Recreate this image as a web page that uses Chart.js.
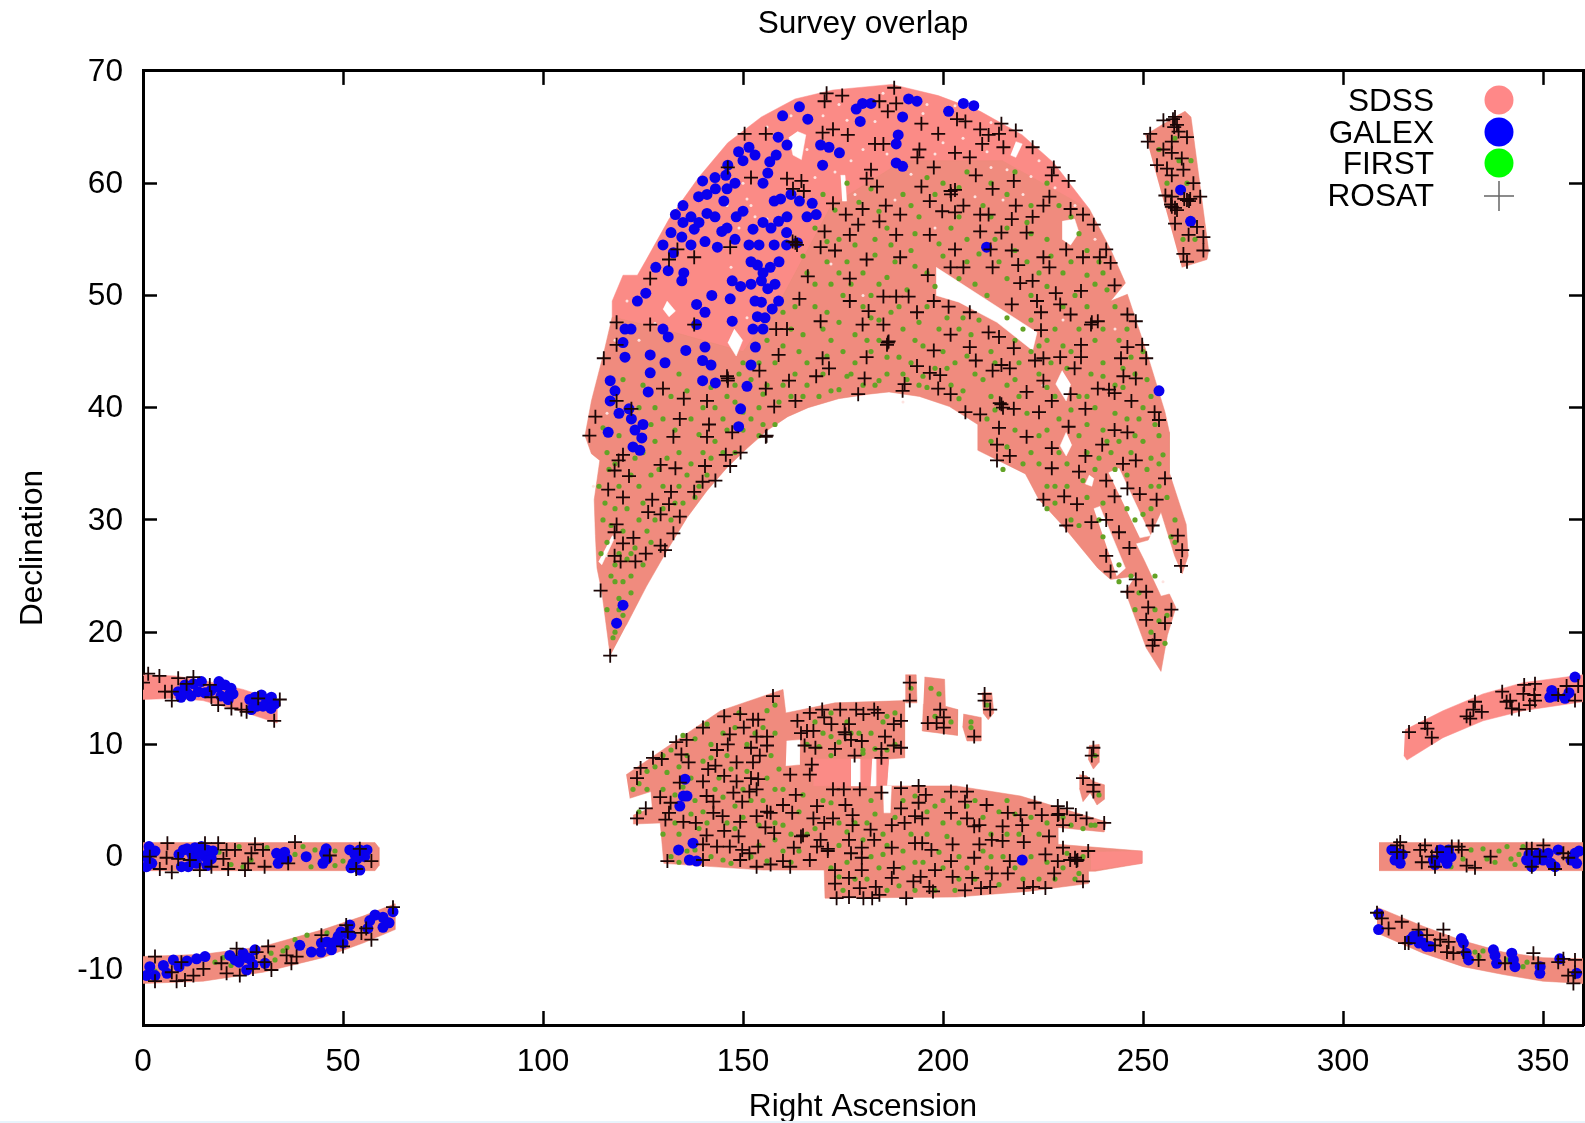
<!DOCTYPE html>
<html lang="en">
<head>
<meta charset="UTF-8" />
<title>Survey overlap</title>
<style>
  html, body { margin: 0; padding: 0; background: #fff; }
  #wrap { position: relative; width: 1585px; height: 1123px; }
  #strip { position: absolute; left: 0; right: 0; bottom: 0; height: 2px; background: #e8f4fc; }
</style>
</head>
<body>
<div id="wrap"><canvas id="chart" width="1585" height="1123"></canvas><div id="strip"></div></div>
<script src="https://cdn.jsdelivr.net/npm/chart.js"></script>
<script>
const xTicks = [0, 50, 100, 150, 200, 250, 300, 350];
const yTicks = [-10, 0, 10, 20, 30, 40, 50, 60, 70];
const legendNames = ['SDSS', 'GALEX', 'FIRST', 'ROSAT'];

// SDSS footprint outlines [RA, Dec]
const capLeftEdge = [[116.8,17.9],[114.7,23.6],[113.5,25.7],[113.1,28.6],[112.8,31.8],[114.2,35.3],[112.1,35.9],[110.5,37.5],[112.1,40.6],[115.2,44.9],[117.3,48.1]];
const capTopEdge = [[117.3,49.5],[120,51.8],[123.6,51.8],[125.7,53.1],[131.5,56.8],[138.9,60.5],[146.2,63.6],[154.6,65.9],[163,67.5],[172.5,68.3],[187.2,68.8],[198.8,67.8],[209.3,66.4],[219.8,64.3],[227.7,61.8]];
const capRightEdge = [[236.6,57.7],[241.9,54.1],[245.6,51.1],[241.9,49.5],[246.1,50.1],[251.3,44.5],[255.5,39.6],[256.6,37.8],[256.6,34.2],[260.8,29.6],[261.3,26.8],[259.8,25.2],[257.9,26.8],[254.5,30.7],[251.3,28.2],[248.2,27.9],[250.3,26.4],[254.5,23.2],[256.6,23.4],[258.2,22.2],[256.1,19.7],[254.5,16.5],[250.8,18.6],[245.6,23.6],[248.2,25],[241.9,24.7],[238.7,25.7],[229.9,29.5],[224,31.8],[220.6,34.1],[208.7,36.2],[208.7,38.5],[201.6,40.1],[194.1,41],[186.5,41.4],[181.4,41.2],[173.9,40.8],[166.3,40],[161.2,39.2],[156.2,38],[151.1,36.4],[146.1,34.7],[141,32.6],[136,30.2],[130.9,27.2],[125.9,24.1],[120.8,20.6]];
const capFirstLimit = [[130,47],[150,45],[160,50],[172,58],[190,62],[215,62]];
const sdssStrip = [[250.6,64.3],[258,65.9],[260.5,66.4],[262,65.9],[266.4,54],[266,53.2],[259.7,52.5]];
const sdssPatch = [[120.8,7.3],[131.9,10],[144.4,13],[160,14.9],[160.7,12.8],[173,13.7],[190.4,13.9],[190.4,8.8],[186.4,8.7],[185.9,6.3],[187.2,6.3],[203.3,6.3],[219.4,5.4],[240.8,3.1],[240.3,2.2],[228.7,2.6],[228.7,1.1],[249.7,0.5],[249.7,-0.6],[238.1,-1.3],[236.3,-1.3],[236.3,-2.4],[221.1,-3.1],[203.3,-3.6],[170.5,-3.7],[170.3,-1.2],[155.1,-1.2],[130.2,-0.6],[129.3,3],[122.6,2.9],[122.6,3.7],[127.3,4.4],[127,5.8],[121.7,5.2]];
const sdssBit1 = [[190.6,16.2],[193.3,16.2],[193.5,13.7],[190.6,13.7]];
const sdssBit2 = [[195.4,16],[200.4,15.8],[200.6,13.4],[203.7,13.1],[203.6,10.8],[194.8,11.2],[195.1,13.6]];
const sdssBit3 = [[205.1,12.7],[209.5,12.4],[209.5,10.3],[206,10.3],[204.9,11.6]];
const sdssBit4 = [[209.7,14.6],[212.2,14.6],[212.7,12.8],[211.3,12.2],[210,12.8]];
const sdssBit5 = [[236.5,9.9],[239,10],[239,8.4],[237.6,7.8],[236.3,8.7]];
const sdssBit6 = [[234.1,7.3],[235.9,7.2],[237.6,6.7],[240.3,6.4],[240.3,5.1],[238.5,4.6],[236.8,5.7],[235,4.9],[234.1,6.1]];
const sdssArcTL = [[0,16.2],[8,16.1],[15,15.7],[25,14.9],[33.5,13.9],[33.5,11.9],[25,12.9],[15,13.9],[8,14.1],[0,14]];
const sdssEqL = [[0,1.25],[58,1.25],[59,0.8],[59,-0.8],[58,-1.25],[0,-1.25]];
const sdssArcBL = [[0,-8.9],[15,-8.7],[30,-8],[45,-6.5],[55,-5.3],[63,-4.2],[63,-6.5],[55,-7.7],[45,-9],[30,-10.3],[15,-11.1],[0,-11.3]];
const sdssArcTR = [[315.5,11.3],[325,13],[335,14.5],[345,15.5],[360,16.2],[360,13.8],[345,13],[335,12.1],[325,10.6],[316,8.6],[315.2,9]];
const sdssEqR = [[309,1.25],[360,1.25],[360,-1.25],[309,-1.25]];
const sdssArcBR = [[308.5,-4.5],[320,-6.2],[330,-7.5],[340,-8.5],[350,-9],[360,-9.1],[360,-11.3],[350,-11.1],[340,-10.5],[330,-9.8],[320,-8.6],[308.5,-6.8]];
// parts of the patch with no FIRST sources
const plainA = [[167.6,8.7],[177,8.7],[177,6.3],[167.6,6.3]];
const plainB = [[179.2,8.7],[182.3,8.7],[181.9,6.3],[179.2,6.3]];
const plainC = [[183.2,8.7],[186.4,8.7],[185.9,6.3],[183.2,6.3]];
const plainD = [[237,0.4],[249.7,0.5],[249.7,-0.6],[237,-1.2]];

// unobserved slits and holes inside the footprint
const gapA = [[198.3,52.5],[223.5,46.7],[222.4,45.1],[213.5,47.6],[204,49.4],[198.3,50]];
const gapB = [[229.8,56.6],[232.9,56.8],[234,55.6],[231.9,54.5],[229.8,55]];
const gapC = [[229.8,43.3],[228.2,42.1],[230.8,40.6],[231.9,42.1]];
const gapD = [[230.8,37.8],[229.3,36.6],[230.8,35.7],[232.2,36.7]];
const gapE = [[236.6,34],[235.6,33.2],[237.2,33],[237.7,33.7]];
const gapF = [[163.6,64.6],[165.7,64.3],[164.6,62.1],[162.5,62.5],[161.5,64.1]];
const gapG = [[174.4,60.7],[175.5,60.7],[175.9,58.4],[174.8,58.4]];
const gapH = [[218.2,63.7],[219.8,63.5],[218.2,62.3],[216.9,62.5]];
const gapI = [[147.8,47],[149.9,46],[148.3,44.6],[146.2,45.8]];
const gapJ = [[131,49.5],[133.1,48.6],[131.5,48.1],[130,48.8]];
const gapK = [[117.3,28.6],[117.9,28.4],[114.7,26],[113.9,26.3]];
const gapL = [[241.4,34.2],[244,34.6],[251.9,28.6],[249.2,28.4]];
const gapM = [[237.7,31],[239.2,31.2],[245.6,25.7],[243.4,25]];
const gapN = [[160.9,10.3],[164.2,10.4],[164.1,8.2],[160.7,8.1]];
const gapO = [[177,8.7],[179.2,8.7],[179.2,6.3],[177,6.3]];
const gapP = [[182.3,8.7],[183.2,8.7],[183.2,6.3],[181.9,6.3]];
const gapQ = [[185,6.3],[187.1,6.3],[186.8,3.9],[185.2,3.9]];
// pale flecks in the thinly covered top of the cap
const sdssFlecks = [[170,66],[176,65.6],[183,65.5],[195,66.2],[200,63.6],[205,64],[211,62.8],[216,61.2],[222,60.6],[180,63],[177,62],[166,63],[192,60.8],[198,62.6],[212,61.4],[168,60.5],[173,61],[186,62.6],[156,65],[162,66],[174,67],[185,68],[196,67],[203,66.9],[212,65.4],[224,62],[228,59.6],[233,58],[238,55],[178,59],[188,58.5],[198,56],[208,58.8],[220,59],[215,58.5],[172,52.8],[180,50],[146,58],[150,60],[152,58],[153,57],[156,56.8],[151,58.6],[149,56],[147,52.5],[151,48],[128,47.5],[124,46],[121,49.5],[118,46],[116,39.5],[190,40.5],[230,47.8],[243,47],[225,42],[112.6,33],[116,26.8],[255,24.5]];

const galexNorth = [[179.9,67.1],[178.3,66.6],[182,67.1],[179.3,65.5],[191.4,67.5],[193.5,67.3],[189.9,65.9],[201.4,66.4],[205.1,67.1],[207.7,66.9],[164.1,66.8],[166.2,65.7],[159.9,66],[169.4,63.4],[174.1,62.7],[171.5,63.2],[169.9,61.6],[188.3,63.5],[188.8,64.3],[188.3,61.8],[189.9,61.5],[161,63.4],[158.8,64.1],[151.5,63.2],[148.9,62.8],[146.2,61.6],[145.7,60.7],[156.7,61.9],[156.2,60.9],[158.3,62.5],[139.9,60.2],[138.9,58.8],[143.1,59.5],[145.2,58.4],[141,57.3],[137.8,55.9],[133.1,57.2],[132,55.6],[134.7,55.2],[132.6,53.8],[140.5,54.8],[144.7,55.7],[143.6,54.3],[148.3,57],[152.5,55.9],[151.5,54.5],[157.8,58.4],[159.4,58.6],[164.1,58.4],[167.3,58.2],[168.3,57.2],[158.9,56.6],[160.9,55.6],[157.8,54.5],[160.9,54.5],[163.6,54.7],[153.6,52.7],[156.8,52.5],[154.6,51.3],[156.2,50.6],[158.9,49.5],[154.6,49.4],[157.3,48.8],[153.6,48.1],[152.5,47],[153.1,45.4],[152,43.8],[151,41.9],[149.4,39.9],[148.9,38.3],[147.3,51.3],[149.4,50.8],[128.2,52.5],[131.3,52.2],[135.2,52],[134.7,51.3],[125.7,50.2],[123.6,49.5],[142.2,50],[138.4,49.2],[140.5,48.5],[146.8,49.7],[147.3,47.7],[138.4,47.4],[131.3,46.3],[130,47],[120.5,47],[120,45.8],[120.5,44.5],[126.8,44.7],[130.5,44],[135.7,45.1],[140.5,45.4],[139.9,44.2],[142,43.8],[143.1,42.2],[139.9,42.4],[126.8,43.1],[126.3,41.4],[116.8,42.4],[116.8,40.6],[121.5,39.9],[122.1,39],[116.3,37.8],[124.7,37.3],[124.2,36.2],[120,22.4],[118.4,20.8],[254,41.5],[259.4,59.4],[261.9,56.6],[210.9,54.3],[135,58],[137,57],[139,56.5],[141,59],[143,57],[146,56],[148,55],[150,57.5],[154,54.5],[155,56.5],[146,59.5],[137,54.5],[135,56.5],[130,54.5],[143,60.5],[148,60],[150,62],[153,62.5],[155,60],[155,52],[152,51],[152,53],[158,51],[159,53],[161,57],[162,59],[157,56],[155.5,48],[153,49.5],[155,47],[166,57],[122,47],[118,41.5],[119,39.5],[123,38],[125,38.5],[122.5,36.5]];
const galexPatch = [[135.5,6.9],[135.1,5.4],[136,5.4],[134.2,4.5],[137.5,1.2],[133.9,0.6],[136.6,-0.3],[138.4,-0.4],[219.8,-0.3]];
const galexLeft = [[8.8,14.7],[10.5,15.3],[12.6,15.4],[13.8,14.7],[14.6,15.6],[18.8,15.1],[20.5,15.3],[21.3,14],[21.7,14.5],[26.7,14],[29.6,14.4],[30.9,14],[33,13.6],[27.1,13.1],[32.1,14.2],[1.3,0.3],[2.2,-0.6],[0.9,-0.9],[10.1,0.6],[12.1,0.3],[14.6,0.9],[15.5,0],[17.1,-0.2],[13.4,-0.6],[11.3,-0.9],[9.6,-0.9],[33.4,0.3],[35.4,0.4],[33.8,-0.6],[40.8,0],[45.4,0.3],[45,-0.6],[51.7,0.6],[54.2,0.6],[52.5,-0.6],[55.4,0],[54.2,-1.2],[1.7,-9.8],[0.9,-10.6],[5.1,-9.7],[7.6,-9.2],[13.4,-9.1],[15.5,-8.9],[21.7,-8.8],[25,-8.6],[26.7,-9.1],[25.9,-10.1],[28,-8.3],[30.5,-9.5],[39.2,-7.9],[42.1,-8.5],[44.6,-7.7],[47.1,-8.3],[48.8,-7.1],[50.8,-6.8],[50,-7.7],[51.7,-6.1],[56.7,-5.7],[60,-5.4],[62.5,-4.9],[60,-6.3],[56.2,-6.4],[9.5,14.2],[11,14.6],[12,14.3],[15.5,14.6],[17,14.8],[19.5,14.3],[22.5,14.5],[28,14.2],[28.5,13.4],[30,13.4],[32,13.2],[22,15],[19,15.6],[1.5,0.9],[0.6,0],[3,0.5],[9,0.2],[11,0.7],[12.5,-0.2],[14,0.2],[16,0.6],[17.5,0.5],[16,-0.8],[13,0.8],[34.5,-0.2],[36,-0.2],[45.8,0.7],[46,-0.2],[53,0.2],[56,0.6],[53.5,-0.2],[52,-1],[6,-10.4],[9,-9.8],[11,-9.3],[24,-9.4],[26,-9],[27.5,-9.6],[23,-9.2],[44.5,-8.5],[48,-7.6],[49.5,-6.7],[46,-7.6],[52,-7],[58,-5.2],[61.5,-5.9],[3,-10.6]];
const galexRight = [[351.7,14.2],[355.5,14.1],[358,16],[352.2,14.8],[313.5,0.3],[312.2,0.6],[314.3,-0.6],[322.6,-0.3],[324.3,0.6],[326.4,0.6],[326,-0.6],[345.9,-0.3],[348.8,0.3],[347.2,-0.9],[351.3,0.3],[353.8,0.6],[358,0.3],[358.4,-0.6],[353,-0.9],[308.9,-5.1],[308.9,-6.5],[317.6,-7.1],[320.1,-7.7],[321.8,-8],[330.1,-7.7],[331.4,-9.2],[337.6,-8.3],[338.4,-9.5],[342.2,-8.6],[343,-9.8],[349.2,-10.4],[354.2,-9.1],[358.4,-10.4],[313,-0.3],[314.8,0.2],[325,-0.1],[323,-0.7],[327,0],[346.5,0.2],[348.3,-0.3],[350,-0.3],[352,-0.6],[357,-0.3],[359,0.5],[318.8,-7],[319,-7.7],[320.8,-8],[329.6,-7.3],[330.8,-8.6],[338,-8.8],[342.6,-9.2],[349.3,-9.8],[316.8,-7.4],[353,14.3],[356.5,14.6]];

const firstCap = [[176,60],[190,59],[200,60],[212,60],[222,58],[168,56],[178,54.5],[186,56],[194,57],[206,55],[216,56],[226,55],[236,54],[166,52],[172,51],[180,52],[188,53],[196,52],[208,51],[218,54],[230,52],[238,51],[162,47],[168,49],[175,50],[182,48],[190,47],[196,49],[204,47],[212,45],[220,47],[228,47],[236,49],[244,46],[150,44],[156,46],[164,45],[172,46],[178,44],[184,46],[192,44],[200,45],[208,43],[216,42],[224,43],[232,45],[240,44],[248,43],[128,40],[134,43],[140,40],[146,41],[154,40],[160,42],[166,42],[172,41.5],[180,42],[186,43],[194,42],[202,42],[212,41],[218,38],[226,38],[234,41],[240,38],[246,39],[252,41],[116,36],[122,34],[128,37],[134,36],[140,36],[146,38],[152,39],[158,38.5],[212,37],[220,35],[228,33],[236,36],[242,36],[250,37],[254,35],[114,33],[118,31],[124,33],[130,33],[136,34],[142,35.5],[148,36],[226,33],[232,30],[236,32],[246,34],[252,33],[256,32],[115,30],[120,29],[126,29],[132,30],[138,32],[240,28.5],[244,26],[258,30],[118,26],[122,25],[127,28],[119,23],[122,23.5],[248,22],[252,20],[254,21],[253,25],[118,20],[116,22],[170,59],[182,59.5],[196,60.5],[206,61],[218,61],[226,60],[174,55],[183,55],[192,54],[202,56],[212,57],[222,55.5],[232,57],[240,52],[165,53.5],[171,53],[177,51],[184,51],[191,50.5],[200,53.5],[206,53],[214,53],[224,52],[233,50],[243,49],[160,48.5],[165,46.5],[171,48.5],[178,46.5],[187,48.5],[193,46],[199,47],[207,46.5],[216,48],[224,45.5],[231,43.5],[238,46],[247,44.5],[152,42.5],[158,44],[163,43],[170,43],[175,45],[182,45],[189,44.5],[195,45.5],[203,44],[210,42.5],[219,44],[227,44],[237,43],[243,42],[250,40],[125,42],[132,41],[137,39],[143,40],[149,43],[156,42],[162,41],[169,41],[176,42.8],[183,42],[191,42.5],[198,43.5],[205,41.5],[211,39],[221,39.5],[229,39],[236,38.5],[243,39.5],[248,37.5],[254,37.5],[119,37.5],[125,36],[131,35.5],[137,35],[143,37],[150,38],[155,38.5],[215,34.5],[222,36],[231,35],[238,34.5],[244,37],[252,35.5],[116.5,34.5],[121,31],[127,34],[133,31.5],[139,33],[145,36],[228,31.5],[234,29.5],[250,30.5],[254,33],[116,28],[119,27],[124,30],[130,31],[135,31.5],[117,25],[121,26.5],[125,26],[119,22],[118,24.5],[246,31],[240,31.5],[257,28.5],[247,25]];
const firstCapMore = [[173,57.6],[179,58.3],[184,57.5],[192,58],[198,59],[204,59.6],[210,58],[216,59],[221,56.5],[229,58],[171,54.8],[176,53],[183,53.6],[187,54.5],[193,55.5],[199,54.6],[204,57],[209,53.7],[213,55],[221,53],[227,53.5],[234,55.5],[239,53],[168,51],[174,52],[182,50],[186,51.6],[193,52.6],[198,50.8],[204,51.5],[211,50],[216,51.5],[222,50],[226,50.8],[232,53],[236,51.8],[241,50.5],[163,49],[170,47],[174,47.6],[180,49],[184,47.8],[189,49],[194,47.6],[201,48],[205,48],[209,47.8],[218,46],[222,47.8],[226,46],[230,49],[234,47],[240,47],[246,47],[250,45],[148,42],[154,44],[160,45.5],[166,44],[171,44.6],[177,43],[181,46],[186,44.5],[190,43],[195,42.8],[201,43.5],[206,44.6],[213,44],[218,42.5],[222,45],[226,41.8],[230,45.5],[236,41],[240,42.8],[245,43.5],[251,42.5],[120,42.5],[124,40],[130,39],[136,41.5],[142,41.8],[148,40.5],[155,41.2],[159,40.5],[165,41],[174,41.6],[184,42.4],[196,41.8],[204,40.8],[213,39.8],[219,41],[224,37.5],[228,41],[232,39.8],[238,40],[241,37],[245,41.8],[249,39],[253,38.5],[115,38.2],[118,35],[123,35.5],[127,38.5],[133,38],[139,37.6],[145,39],[150,39.6],[154,37.5],[216,36.5],[224,35],[229,36],[234,37.5],[239,35.5],[243,34.5],[247,36],[251,34.5],[255,35.8],[115.5,31.5],[119,33],[125,31.5],[129,34.5],[134,33],[141,34],[226,31],[231,33],[235,33.5],[239,30],[248,30],[252,31],[258,28],[114.5,27],[117,29.5],[122,27],[128,30],[120,24.5],[123,27.5],[120,21.5],[117.5,19.5],[244,24.5],[249,23.5],[253,22],[255.5,19],[256,21.5]];
const firstPatch = [[124,6.5],[128,8],[134,8],[138,10.5],[142,10],[148,11.5],[156,13],[158,11],[130,6],[136,9],[144,7],[150,6],[156,7],[160,6],[124,4],[130,2],[134,2],[140,4],[146,3],[152,5],[158,3],[164,4],[132,0],[142,0],[148,2.5],[154,1],[160,0.5],[166,2],[166,10],[170,11],[176,12],[182,11],[186,12.5],[188,10],[172,9],[180,9.5],[170,5],[174,1],[178,3],[182,5],[190,5],[196,4],[200,5],[208,5],[214,4],[222,3.5],[232,2.8],[238,2.8],[172,-1],[178,-2],[184,-1],[186,1],[190,-1],[196,2],[198,-3],[204,0],[204,-2],[210,0.5],[216,2],[222,0],[224,-2],[230,-1],[234,-1.5],[192,15],[198,12.5],[202,12],[207,11.5],[211,13.5],[238,9],[239,5.5],[126,6],[132,9.5],[137,7],[140,8.5],[146,9],[151,10],[155,11.5],[158,13.5],[133,5.5],[139,2.5],[143,6],[148,4.5],[155,5],[158,6],[162,2],[136,0.5],[145,-0.3],[152,0],[158,1.5],[165,5.5],[168,12],[172,12.8],[179,11],[185,12],[174,10.2],[180,9.2],[186,9.5],[174,3],[180,1.5],[183,3.8],[192,2],[198,4.5],[204,3],[210,3.5],[216,5],[219,2],[226,3],[235,2.5],[176,-0.5],[182,0],[190,0.5],[195,-0.5],[200,-1],[206,-1],[212,0],[218,-1],[226,-0.5],[233,-2],[175,-3],[186,-3],[193,-3],[203,-3],[214,-2.5],[197,15],[199,14.5],[207,12]];
const firstPatchMore = [[122.5,6],[126,7.6],[130,9],[135,10.8],[141,11.8],[145,11],[149,12.8],[153,11],[157,9],[131,7.5],[135,6.2],[138,5],[142,8.8],[147,7.8],[151,7.6],[159,7.8],[133,3],[137,3.8],[141,3],[145,5.3],[150,3.5],[154,2.8],[160,2.8],[164,0.5],[134,-0.5],[138,0.6],[147,-0.6],[156,-0.4],[162,-0.5],[169,9.8],[172,10.7],[177,11],[183,9.6],[188,12.8],[168,2.5],[172,4.8],[176,2.2],[181,3],[185,2],[188,3.5],[193,5.4],[200,3],[206,4.5],[212,2],[218,3.8],[224,2],[230,3.5],[237,2.8],[174,-1.8],[181,-2],[185,0.2],[189,-2.6],[193,-0.5],[199,0.4],[201,1.8],[208,-2],[211,-1],[215,0],[220,-2],[228,-2],[231,0.3],[235,0]];
const firstStripes = [[24,0.9],[27,-0.3],[31,0.8],[38,0.2],[42,-0.9],[48,0.5],[22,-0.7],[48,-0.8],[18,-9.4],[22,-9.7],[32,-8.6],[36,-8.1],[41,-7],[3,-10.2],[335,0.7],[338,-0.5],[341,0.9],[343,-0.7],[330,-0.2],[344,0.2],[333,-8.5],[345,-9.8],[349,-9.6],[334,-8.9],[258,64],[261,60],[263,55],[259,62],[40,0.9],[43,0.6],[50,-0.4],[19,0.4],[25,-0.9],[33,-9.2],[35,-8.4],[38,-7.4],[46,-6.8],[20,-9],[336,-0.2],[339,0.5],[342,-0.2],[345,0.9],[332,0.6],[327,-0.9],[335,-8.4],[346,-9.4],[341,-9.2],[254,63],[256,60],[262,62],[260,55]];

const rosatCap = [[170.9,68],[174.8,67.8],[187.8,68.5],[170.4,67.3],[184.1,67.3],[188.3,67.1],[186.2,66.4],[203.5,65.7],[205.6,65.5],[194.6,65.3],[214.6,65.3],[209.3,64.8],[155.7,64.4],[150.4,64.4],[169.9,64.5],[176.2,64.3],[198.8,64.4],[211.4,64.3],[214,64.4],[218.2,64.7],[183,63.5],[185.1,63.5],[172.5,64.8],[209.8,63.5],[215.1,63.2],[222.4,63.2],[194.1,63],[203,62.7],[206.7,62.3],[227.7,61.4],[197.7,61.4],[182,61.2],[208.2,60.7],[180.9,60.4],[217.7,60.2],[227.2,60.7],[231.4,60.2],[193.6,62.3],[152,60.5],[146.2,61.4],[161,60.4],[164.6,60.2],[183.5,59.7],[194.6,59.7],[201.9,59.3],[212.4,59.5],[226.6,58.8],[231.9,57.7],[172.5,58.2],[185.7,58],[196.7,58.4],[205.1,58],[218.2,58],[211.4,57.2],[199.8,57.5],[203,57.4],[209.3,57.2],[179.9,57.7],[175.7,57.2],[189.3,57.2],[217.2,56.8],[222.4,57],[162.5,59.5],[165.2,59.3],[235,57.2],[225.1,58],[184.1,56.6],[178.8,56.3],[170.4,55.7],[176.7,55.4],[188.3,55.4],[196.7,55.4],[209.3,55.7],[214.6,55.6],[220.9,55.6],[237.7,56.3],[169.4,54.3],[163.1,54.7],[173,54],[180.9,53.2],[189.3,53.4],[203,54.1],[211.9,54.1],[217.2,54],[225.1,53.4],[230.8,54.1],[240.8,54.1],[235,53.4],[239.2,53.4],[241.9,52.9],[218.8,52.7],[201.9,52.5],[205.1,52.5],[212.4,52.5],[226.6,52.5],[196.2,51.8],[176.7,51.5],[166.2,51.7],[146.8,54.3],[137.8,53.4],[131.5,53.2],[133.6,54.1],[126.8,51.5],[219.3,51.1],[222.4,51.3],[234.5,50.4],[242.9,50.9],[228.2,50.2],[223.5,49.5],[229.3,49.2],[188.3,49.9],[191.4,49.9],[197.7,49.5],[201.4,49],[164.1,49.7],[176.7,49.5],[185.1,49.9],[217.2,49.2],[224.5,48.5],[231.9,48.3],[238.7,47.7],[246.1,48.3],[169.4,47.7],[181.4,48.6],[193.5,48.5],[206.7,48.5],[211.4,46.7],[214,46.3],[179.9,47.4],[185.1,47.4],[158.3,47],[161,47],[137.8,47.4],[118.4,47.6],[126.8,47.4],[224.5,46.9],[248.2,47.7],[237.2,47.6],[197.7,45.1],[201.9,46.5],[186.2,45.8],[158.9,44.7],[169.9,44.4],[180.9,44.5],[234.5,45.6],[246.1,45.4],[249.8,45.6],[229.3,44.5],[223,44.2],[217.7,45.3],[234.5,44.5],[244.5,44.4],[206.7,45.4],[193.5,43.7],[196.7,43.1],[199.3,42.9],[171.5,43.5],[154.1,43.3],[146.2,42.6],[212.4,43.3],[216.7,43.5],[225.1,44.4],[232.9,43.5],[245.1,42.8],[248.2,42.6],[250.8,44.4],[115.2,44.4],[118.4,45.6],[161.5,42.4],[168.3,42.8],[180.4,42.6],[190.4,42.1],[214.6,43.8],[208.2,44.2],[198.8,41.7],[201.9,41.2],[189.9,41.5],[178.8,41.2],[163.1,40.6],[157.8,40.1],[141,40.6],[135.2,40.8],[130,41.7],[146.2,42.4],[155.7,41.7],[214.6,40.3],[217.7,39.9],[225.1,42.4],[227.2,40.6],[231.9,41.2],[238.7,41.7],[242.9,41.3],[247.1,40.6],[252.9,39.6],[254,38.9],[242.9,38],[231.4,38.3],[220.9,41.4],[205.6,39.6],[209.3,39.4],[214,38.2],[113.1,39.2],[111.6,37.5],[118.4,40.6],[122.1,39.9],[134.2,39],[141.5,38.5],[147.3,37.8],[224,39.6],[235.6,39.9],[246.1,37.8],[213.5,36.7],[220.9,37.4],[227.2,36.4],[227.2,34.6],[235.6,35.7],[239.8,36.7],[245,35],[248.2,35.3],[255.5,33.7],[253.4,31.8],[246.1,32.8],[242.9,32.1],[230.3,32.1],[233.5,31.4],[225.1,31.8],[216.7,35.7],[213.5,35.3],[234,34.3],[240.8,33.5],[249.2,32.3],[145.7,35.8],[141,37.4],[132.6,37.4],[118.9,35.3],[120,35.8],[129.4,34.9],[133.1,34.6],[140.5,34.8],[146.8,34.8],[117.9,34.4],[121.5,33.9],[139.9,33.4],[143.1,33.5],[116.3,32.7],[120,32],[132,32.5],[127.3,31.8],[137.8,32.5],[131.5,31.4],[155.7,37.4],[149.4,36],[126.3,30.7],[129.4,30.5],[134.2,30.3],[118.4,29.6],[117.9,28.9],[122.6,28.4],[132.6,28.8],[120,27.9],[129.4,27.7],[130.5,27.3],[117.9,26.8],[119.4,26.3],[123.1,26.3],[125.7,27],[114.4,23.7],[116.8,17.9],[230.8,29.5],[237.1,29.8],[240.8,30],[244,28.9],[246.6,27.5],[240.8,26.8],[241.9,25.4],[252.4,29.5],[258.7,28.6],[259.8,27.3],[259.5,25.9],[248.2,24.7],[246.1,23.6],[250.8,23.6],[251.3,22.2],[257.1,22],[250.8,21.1],[255.5,20.8],[252.9,19.3],[252.4,18.8],[186.4,45.9],[186,45.6],[203,59.4],[202,59],[214.2,40.4],[215,40],[162.4,54.8],[163.5,54.5],[155.9,37.5],[146,42.8],[237,47.4],[241.5,41.6]];
const rosatStrip = [[258,65.9],[258.5,65.2],[258.9,64.6],[261,64.1],[255.1,65.6],[251.8,64.4],[251.2,63.7],[257.2,63.7],[255.1,63],[257.2,62.7],[259.7,62.2],[253.5,61.6],[256,61.3],[260.1,61.2],[257.2,60.7],[262.6,60],[255.6,58.9],[257.2,58.8],[261,58.5],[261.8,58.6],[264.3,58.8],[257.2,57.9],[258.5,57.6],[258,56.4],[263.5,56.1],[261.4,55.4],[265.1,55.2],[265.1,54],[260.1,53.7],[261,53],[260.3,58.6],[261.5,58.4],[257.5,65.7],[257.8,65],[258,57.8],[257,58.1]];
const rosatPatch = [[157.5,14.3],[145.3,12.5],[149.3,12.7],[152.5,12.2],[153.8,12.2],[140,11.5],[135.9,10.4],[133.3,10.2],[134.6,9.1],[127.5,8.8],[129.7,8.7],[124.4,7.9],[123.5,7],[146.7,10.9],[150.2,11.5],[153.4,10.7],[156,10.7],[143.5,9.5],[146.2,10],[152,9.7],[156,9.9],[136.4,8.4],[141.3,7.8],[143.1,8.1],[148.4,8.4],[152.5,8.4],[154.2,9],[134.2,6.6],[140,6.7],[145.3,7.2],[148.4,6.7],[152,7],[153.8,6.9],[153.4,6],[151.6,5.8],[147.6,5.7],[149.8,4.9],[140.9,5.4],[142.6,4.9],[129.3,5.3],[131.9,4.8],[125.7,4.3],[123.5,3.4],[130.6,3.3],[131.5,3.9],[135.1,3.1],[138.2,3],[142.6,3.9],[144.9,3.6],[145.3,2.3],[148.9,1.8],[140.9,1.9],[149.3,3.1],[153.4,3.6],[156,4],[156.9,3.9],[155.6,2.6],[162.3,3.9],[163.2,5.5],[160,4.6],[157.8,2.1],[140,1.1],[143.5,0.9],[146.7,0.9],[149.8,0.6],[153.8,0.9],[151.6,0.3],[149.3,-0.3],[131.1,-0.4],[140,-0.3],[153.4,-0.9],[156.9,-0.7],[160,-0.4],[161.8,-0.9],[162.7,0.8],[163.6,12.1],[166.7,12.8],[169.8,13.1],[170.3,12.4],[174.3,13.1],[178.3,13.1],[182.8,13.1],[183.7,12.8],[172.1,11.8],[176.5,11.8],[180.1,12.7],[189.5,12.1],[187.7,11.8],[164.5,11],[167.6,11.2],[175.6,10.9],[177,10.4],[179.7,10.3],[185.5,10.7],[165.4,9.9],[168.1,9.7],[173,9.6],[177.9,9],[184.6,9.6],[187.7,9.9],[189.5,9.7],[184.6,8.8],[167.2,8.2],[166.7,7.3],[161.8,7.3],[172.5,6],[175.2,6],[179.2,6],[184.6,5.7],[189.5,6.1],[193.9,6.3],[195.7,5.5],[202,5.8],[206,5.8],[205.5,4.9],[193.9,4.8],[189.5,4.3],[210.9,4.6],[175.6,4.6],[168.5,4.5],[167.6,3.4],[170.3,3],[172.5,3.4],[177.4,3.7],[177.4,2.8],[181.9,2.4],[182.8,1.5],[187.2,2.8],[190.4,3],[193,3.6],[194.8,3.4],[202,3.9],[206,3.4],[207.8,2.7],[209.1,2.8],[214.9,2.7],[216.2,3.9],[219.4,3.7],[219.8,2.8],[222.9,4.8],[224.7,3.7],[228.7,4.5],[228.7,3.7],[231,4.3],[233.2,3.7],[235.9,3.4],[240.3,3],[230,2.8],[226.5,1.8],[220.2,1.3],[214.9,1.4],[212.2,1.5],[209.1,1.1],[202.4,1.1],[197.1,0.6],[193,1.2],[194.8,1.2],[187.2,0.8],[179.7,0.8],[176.5,1.5],[169.4,1.5],[164.5,1.8],[168.5,0.9],[171.2,0.5],[166.7,-0.3],[179.7,-0.1],[177,0.3],[230,0.8],[231.8,-0.3],[233.6,-0.3],[236.3,0.5],[228.7,-0.4],[225.6,0.2],[216.7,-0.4],[216.2,-1.5],[212.2,-1.5],[207.8,-0.1],[207.3,-1.9],[202,-0.4],[202.4,-1.8],[198,-1.2],[194.4,-1.8],[192.6,-2.2],[187.7,-1],[187.2,-1.9],[179.7,-1.2],[176.5,-1.9],[173,-1.2],[173,-2.4],[179.2,-2.8],[183.2,-2.7],[184.1,-3.4],[173.4,-3.7],[176.5,-3.6],[180.1,-3.7],[182.3,-3.7],[190.8,-3.7],[197.5,-3.1],[196.6,-2.7],[205.5,-3],[209.5,-2.8],[211.8,-2.7],[220.2,-2.8],[222.5,-2.7],[225.6,-2.8],[235,-2.2],[227.8,-1.5],[191.7,15.5],[191.7,13.9],[199.3,13.1],[200.2,12.4],[198.4,11.9],[196.2,11.9],[200.2,11.5],[207.8,10.7],[210.4,14.5],[210.4,13.9],[211.8,13.1],[237.6,9.7],[237.2,9],[235,7],[237.6,6.4],[237.6,5.8],[166,11.2],[175.4,11.1],[228.9,3.8],[233.4,-0.4],[233,-0.1],[165,1.9],[171.2,0.7]];
const rosatLeft = [[1.3,16.3],[4.1,16.1],[0,15.5],[8.8,15.9],[12.6,16],[10.9,15.4],[16.7,15.3],[5.5,14.7],[7.2,14.7],[7.2,13.9],[17.1,14.2],[18.8,13.5],[22.1,13.2],[24.6,13.1],[25.9,12.9],[28.8,14.1],[34.2,14],[32.8,12.1],[6.1,1.2],[5.9,-0.1],[1.7,0],[4.2,-1.1],[8.8,-0.2],[7.2,-1.4],[11.7,-0.3],[15.5,1.2],[18.8,1.2],[20.9,0.6],[23,0.6],[20.1,-0.2],[14.2,-1.2],[17.1,-0.9],[21.3,-1.1],[28,1.1],[27.1,0.3],[30,0.6],[26.3,-0.6],[25.5,-1.2],[30.4,-0.9],[36.3,-0.6],[38,1.3],[46.7,0.1],[54.2,0.7],[57.1,-0.4],[53.3,-1.1],[3,-8.9],[3,-11.1],[7.2,-10.3],[9.6,-9.4],[8.4,-11.1],[10.5,-11],[12.6,-10.6],[15.1,-10],[19.6,-9.5],[20.9,-10.4],[23.4,-8.2],[24.2,-10.6],[28.4,-8.5],[27.5,-10],[30.4,-9.4],[32.1,-10.1],[31.3,-8],[35.9,-8.8],[38.4,-8.9],[37.1,-9.5],[44.6,-7],[50,-8],[50.8,-6.1],[51.2,-6.7],[54.6,-6.8],[55.8,-6.4],[57.1,-7.4],[62.5,-4.5]];
const rosatRight = [[316.5,11.1],[320.5,11.9],[321.1,11.4],[322.2,10.6],[330.9,12.5],[331.8,12.3],[332.6,13.1],[333,13.8],[334.7,12.9],[339.8,14.7],[340.9,13.8],[341.8,13.9],[342.2,13.2],[344,13.1],[345.1,14.5],[345.3,15.3],[348,15.4],[347.8,14.4],[348,13.9],[346.7,13.5],[355.9,15.2],[353.8,14.4],[358,13.9],[358.8,15.2],[313.5,1],[314.3,1.3],[313.5,0.4],[315.1,0.4],[319.3,0.6],[320.5,1],[319.7,-0.5],[322.2,0],[323.5,0.4],[323,-0.9],[327.2,0.9],[328.9,0.9],[329.7,0.6],[330.9,-0.8],[333,-1],[336.9,0],[345.9,0.7],[347.2,0.7],[350.1,1],[349.2,0],[347.2,-0.9],[353,-1.1],[355.1,0.3],[356.3,-0.1],[308.5,-5],[309.7,-5.5],[311.4,-6.4],[314.7,-5.8],[315.5,-7.7],[316.4,-7.7],[318.9,-6.5],[321,-7],[325.1,-6.5],[323,-7.9],[324.3,-7.4],[326.4,-7.6],[326,-8.5],[327.6,-8.6],[330.1,-8.5],[333.9,-9.2],[340.5,-9.5],[347.6,-8.6],[348.8,-9.5],[353.8,-9.4],[355.1,-9.1],[356.3,-10.6],[358,-10.3],[358,-9.2],[357.6,-11.3]];

const PINK = '#fb8b86';
const TINT = 'rgba(105,135,30,0.07)';
const FONT = '"Liberation Sans", Arial, sans-serif';
const TEXT = { family: FONT, size: 31.6 };

const sdssCap = [...capLeftEdge, ...capTopEdge, ...capRightEdge];
const capFirstArea = [...capRightEdge, ...capLeftEdge, ...capFirstLimit];

function toPoints(list) {
  return list.map(p => ({ x: p[0], y: p[1] }));
}

function shape(list, color) {
  return {
    data: toPoints(list), showLine: true, fill: 'shape', tension: 0,
    backgroundColor: color, borderColor: color, borderWidth: 0.5, pointRadius: 0
  };
}

function marks(list, style, radius, color, width) {
  return {
    data: toPoints(list), showLine: false, pointStyle: style, pointRadius: radius,
    backgroundColor: color, borderColor: color, pointBorderWidth: width
  };
}

const sdss = [sdssCap, sdssStrip, sdssPatch, sdssBit1, sdssBit2, sdssBit3, sdssBit4, sdssBit5, sdssBit6,
  sdssArcTL, sdssEqL, sdssArcBL, sdssArcTR, sdssEqR, sdssArcBR];
const tinted = [capFirstArea, sdssStrip, sdssPatch, sdssBit1, sdssBit2, sdssBit3, sdssBit4, sdssBit5, sdssBit6,
  sdssEqL, sdssArcBL, sdssEqR, sdssArcBR];
const plain = [plainA, plainB, plainC, plainD];
const gaps = [gapA, gapB, gapC, gapD, gapE, gapF, gapG, gapH, gapI, gapJ, gapK, gapL, gapM, gapN, gapO, gapP, gapQ];

// drawn back to front, see order below
const layers = [
  ...sdss.map(s => shape(s, PINK)),
  ...tinted.map(s => shape(s, TINT)),
  ...plain.map(s => shape(s, PINK)),
  ...gaps.map(g => shape(g, '#ffffff')),
  marks(sdssFlecks, 'circle', 1.5, '#fde3e0', 0),
  marks([...firstCap, ...firstCapMore, ...firstPatch, ...firstPatchMore, ...firstStripes], 'circle', 2.6, '#63a326', 0),
  marks([...galexNorth, ...galexPatch, ...galexLeft, ...galexRight], 'circle', 5.5, '#0a00ee', 0),
  marks([...rosatCap, ...rosatStrip, ...rosatPatch, ...rosatLeft, ...rosatRight], 'cross', 7, '#1a0606', 1.8)
];
layers.forEach((d, i) => { d.order = layers.length - i; });

// key sits inside the plot, labels to the left of the symbols
const surveyKey = {
  id: 'surveyKey',
  afterDraw(chart) {
    const ctx = chart.ctx;
    const rows = [100, 132, 163, 195];
    const colors = ['#ff8888', '#0000ff', '#00ff00'];
    ctx.save();
    ctx.font = '31.6px ' + FONT;
    ctx.textAlign = 'right';
    ctx.textBaseline = 'middle';
    ctx.fillStyle = '#000';
    legendNames.forEach((name, i) => {
      ctx.fillText(name, 1434, rows[i] + 2);
      if (i < 3) {
        ctx.beginPath();
        ctx.arc(1499, rows[i], 14.5, 0, Math.PI * 2);
        ctx.fillStyle = colors[i];
        ctx.fill();
        ctx.fillStyle = '#000';
      } else {
        ctx.strokeStyle = '#666';
        ctx.lineWidth = 1.5;
        ctx.beginPath();
        ctx.moveTo(1484, rows[i] + 1); ctx.lineTo(1514, rows[i] + 1);
        ctx.moveTo(1499, rows[i] - 14); ctx.lineTo(1499, rows[i] + 16);
        ctx.stroke();
      }
    });
    ctx.restore();
  }
};

const axisBorder = { color: '#000', width: 3 };
const inwardGrid = { drawOnChartArea: false, drawTicks: true, tickLength: -14, tickColor: '#000', tickWidth: 2.5 };

new Chart(document.getElementById('chart').getContext('2d'), {
  type: 'scatter',
  data: { datasets: layers },
  options: {
    responsive: false,
    animation: false,
    layout: { autoPadding: false, padding: { left: 0, top: 0, right: 0, bottom: -3 } },
    plugins: {
      legend: { display: false },
      tooltip: { enabled: false },
      title: {
        display: true, text: 'Survey overlap', color: '#000', fullSize: false,
        font: { family: FONT, size: 31.6, weight: 'normal' },
        padding: { top: 5, bottom: 28 }
      }
    },
    scales: {
      x: {
        type: 'linear', min: 0, max: 360, position: 'bottom',
        border: axisBorder, grid: inwardGrid,
        afterBuildTicks: s => { s.ticks = xTicks.map(v => ({ value: v })); },
        afterFit: s => { s.height = 101; s.paddingLeft = 0; s.paddingRight = 0; },
        ticks: { color: '#000', font: TEXT, padding: 32, maxRotation: 0, autoSkip: false },
        title: { display: true, text: 'Right Ascension', color: '#000', font: TEXT, padding: { top: 0, bottom: 0 } }
      },
      y: {
        type: 'linear', min: -15, max: 70, position: 'left',
        border: axisBorder, grid: inwardGrid,
        afterBuildTicks: s => { s.ticks = yTicks.map(v => ({ value: v })); },
        afterFit: s => { s.width = 143; s.paddingTop = 0; s.paddingBottom = 0; },
        ticks: { color: '#000', font: TEXT, padding: 34, autoSkip: false, labelOffset: 1 },
        title: { display: true, text: 'Declination', color: '#000', font: TEXT, padding: { top: 14, bottom: 0 } }
      },
      xTop: {
        type: 'linear', min: 0, max: 360, position: 'top',
        border: axisBorder, grid: inwardGrid,
        afterBuildTicks: s => { s.ticks = xTicks.map(v => ({ value: v })); },
        afterFit: s => { s.height = 0; s.paddingLeft = 0; s.paddingRight = 0; },
        ticks: { display: false }
      },
      yRight: {
        type: 'linear', min: -15, max: 70, position: 'right',
        border: axisBorder, grid: inwardGrid,
        afterBuildTicks: s => { s.ticks = yTicks.map(v => ({ value: v })); },
        afterFit: s => { s.width = 2; s.paddingTop = 0; s.paddingBottom = 0; },
        ticks: { display: false }
      }
    }
  },
  plugins: [surveyKey]
});
</script>
</body>
</html>
